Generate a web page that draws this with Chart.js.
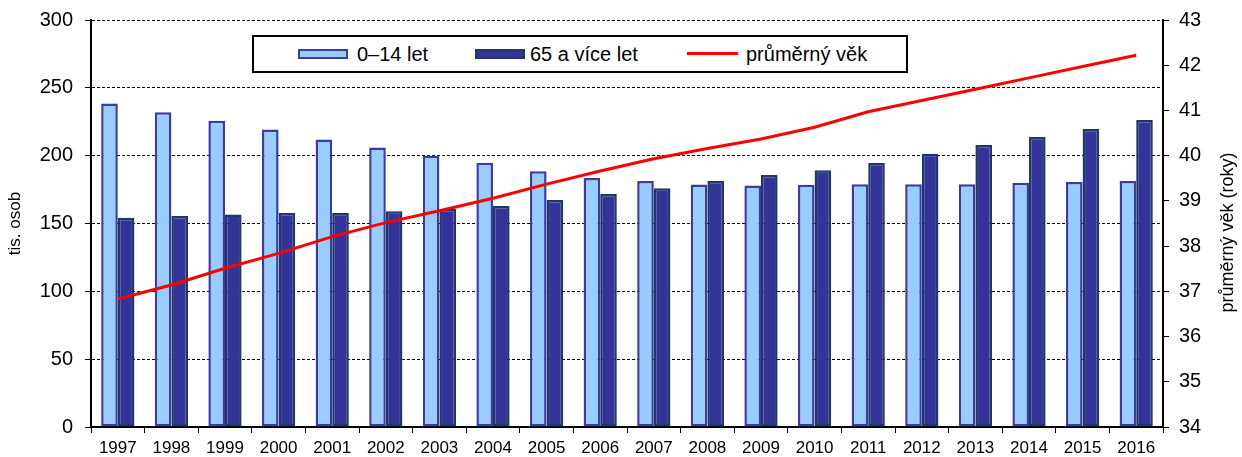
<!DOCTYPE html>
<html>
<head>
<meta charset="utf-8">
<script src="https://cdn.jsdelivr.net/npm/chart.js@4/dist/chart.umd.min.js"></script>
<style>
  body { margin: 0; background: #fff; font-family: "Liberation Sans", Arial, sans-serif; }
  #wrap { position: relative; width: 1242px; height: 457px; }
  #legend { position: absolute; left: 252px; top: 35px; width: 652px; height: 34px;
            border: 2px solid #000; background: #fff; }
  #legend .it { position: absolute; top: 0; height: 34px; line-height: 34px; font-size: 20px; color: #000; white-space: nowrap; }
  #legend .sw { position: absolute; top: 12px; height: 6px; }
</style>
</head>
<body>
<div id="wrap">
  <canvas id="chart" width="1242" height="457"></canvas>
  <div id="legend">
    <div class="sw" style="left:44px;width:46px;background:#99ccff;border:2px solid #3a3aa8;"></div>
    <div class="it" style="left:103px;">0–14 let</div>
    <div class="sw" style="left:221px;width:46px;background:#333399;border:2px solid #1f3864;"></div>
    <div class="it" style="left:276px;">65 a více let</div>
    <div class="sw" style="left:433px;width:51px;height:3px;top:15px;background:#ff0000;"></div>
    <div class="it" style="left:492px;">průměrný věk</div>
  </div>
</div>
<script>
// data
const roky = ["1997", "1998", "1999", "2000", "2001", "2002", "2003", "2004", "2005", "2006",
              "2007", "2008", "2009", "2010", "2011", "2012", "2013", "2014", "2015", "2016"];
const deti = [238.5, 232, 225.7, 219.3, 212, 206, 200, 194.8, 188.6, 183.5,
              181.3, 178.8, 178, 178.6, 179, 179, 179, 180, 180.5, 181.3];
const seniori = [154.3, 155.5, 156.7, 157.7, 157.7, 159, 160.7, 162.9, 167.3, 171.7,
                 176, 181.3, 185.7, 189.2, 194.6, 201.4, 207.8, 213.7, 219.6, 226.2];
const prumernyVek = [36.83, 37.14, 37.51, 37.84, 38.21, 38.52, 38.78, 39.06, 39.37, 39.66,
                     39.93, 40.16, 40.37, 40.63, 40.97, 41.22, 41.47, 41.72, 41.97, 42.22];

const FONT = '"Liberation Sans", Arial, sans-serif';

// titulek prave osy (cte se zdola nahoru)
const pravyTitulek = {
  id: "pravyTitulek",
  afterDraw(chart) {
    const ctx = chart.ctx;
    const s = chart.scales.y1;
    ctx.save();
    ctx.translate(s.right - 14, (s.top + s.bottom) / 2 + 9);
    ctx.rotate(-Math.PI / 2);
    ctx.textAlign = "center";
    ctx.textBaseline = "middle";
    ctx.fillStyle = "#000";
    ctx.font = "18px " + FONT;
    ctx.fillText("průměrný věk (roky)", 0, 0);
    ctx.restore();
  }
};

// svisle osy: pevna sirka, bez extra odsazeni nahore
function svislaOsa(sirka) {
  return function (s) {
    s.width = sirka;
    s.paddingTop = 10;
    s.paddingBottom = 0;
  };
}

new Chart(document.getElementById("chart").getContext("2d"), {
  type: "bar",
  data: {
    labels: roky,
    datasets: [
      {
        type: "line",
        label: "průměrný věk",
        data: prumernyVek,
        yAxisID: "y1",
        borderColor: "#ff0000",
        borderWidth: 3,
        pointRadius: 0,
        tension: 0,
        order: 0
      },
      {
        label: "0–14 let",
        data: deti,
        yAxisID: "y",
        backgroundColor: "#99ccff",
        borderColor: "#3a3aa8",
        borderWidth: 2.5,
        borderSkipped: false,
        order: 1
      },
      {
        label: "65 a více let",
        data: seniori,
        yAxisID: "y",
        backgroundColor: "#333399",
        borderColor: "#1f3864",
        borderWidth: 2.5,
        borderSkipped: false,
        order: 1
      }
    ]
  },
  options: {
    responsive: false,
    animation: false,
    layout: { padding: { top: 20, left: 0, right: 0, bottom: 0 } },
    datasets: { bar: { categoryPercentage: 0.62, barPercentage: 1.0 } },
    plugins: {
      legend: { display: false },
      tooltip: { enabled: false }
    },
    scales: {
      x: {
        afterFit(s) { s.height = 30; s.paddingLeft = 0; s.paddingRight = 0; },
        grid: { display: true, drawOnChartArea: false, offset: true, color: "#000", tickLength: 6 },
        border: { display: true, color: "#000", width: 2 },
        ticks: { color: "#000", font: { family: FONT, size: 17 }, padding: 5, maxRotation: 0 }
      },
      y: {
        position: "left",
        min: 0,
        max: 300,
        afterFit: svislaOsa(91),
        grid: { color: "#000", lineWidth: 1, tickLength: 6, tickColor: "#000" },
        border: { display: true, color: "#000", width: 2, dash: [3, 2] },
        ticks: { stepSize: 50, color: "#000", font: { family: FONT, size: 20 }, padding: 12 },
        title: { display: true, text: "tis. osob", color: "#000", font: { family: FONT, size: 17 }, padding: { top: 5, bottom: 0 } }
      },
      y1: {
        position: "right",
        min: 34,
        max: 43,
        afterFit: svislaOsa(79),
        grid: { display: true, drawOnChartArea: false, color: "#000", tickLength: 6 },
        border: { display: true, color: "#000", width: 2 },
        ticks: { stepSize: 1, color: "#000", font: { family: FONT, size: 20 }, padding: 10 }
      }
    }
  },
  plugins: [pravyTitulek]
});
</script>
</body>
</html>
